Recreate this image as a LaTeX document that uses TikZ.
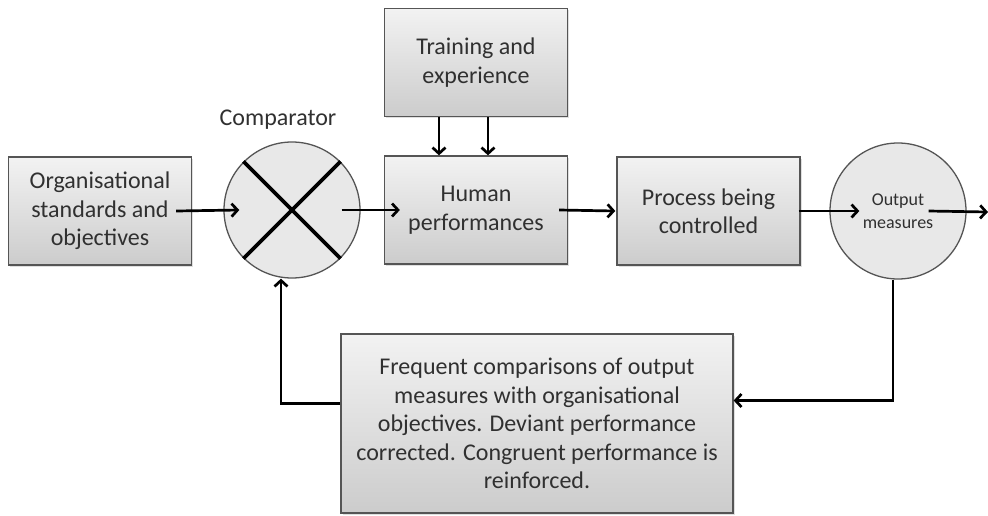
\documentclass[tikz,border=0pt]{standalone}
\usepackage{fontspec}
\setmainfont{Carlito}
\usetikzlibrary{arrows.meta,shapes,shadows}
\definecolor{textgray}{HTML}{303030}
\definecolor{boxline}{HTML}{555555}
\tikzstyle{block}=[rectangle,draw=boxline,line width=1.3pt,top color=gray!10,bottom color=gray!40,minimum width=183pt,minimum height=108pt,inner sep=2pt,align=center,text=textgray,font=\fontsize{24}{28.5}\selectfont,drop shadow={opacity=0.25,shadow xshift=1.5pt,shadow yshift=-1.5pt}]
\tikzstyle{junction}=[circle,draw=boxline,line width=1.3pt,fill=gray!18,minimum size=136pt,inner sep=0pt,align=center,text=textgray]
\tikzstyle{edge}=[draw,line width=2.7pt,-{Straight Barb[length=6pt,width=13pt]}]
\tikzstyle{cross}=[draw,line width=3.6pt]

\begin{document}
\begin{tikzpicture}[x=1pt,y=-1pt]

    \useasboundingbox (0,0) rectangle (988,515);

     \foreach \x/\y/\name/\txt in {100/211/org/{Organisational\\standards and\\objectives}, 476/62.5/train/{Training and\\experience}, 476/210/human/{Human\\performances}, 708.5/211/proc/{Process being\\controlled}}
        \node[block] (\name) at (\x,\y) {\txt};

    % comparator and output measures
    \node[junction] (comp) at (292,210) {};
    \node[text=textgray, font=\fontsize{24}{28.5}\selectfont] (complabel) at (278,120) {Comparator};
    \path[cross] (comp.north west) -- (comp.south east);
    \path[cross] (comp.north east) -- (comp.south west);

    \node[junction, font=\fontsize{18}{23}\selectfont] (out) at (898,211) {Output\\measures};
    \coordinate (exit) at (988,212);

    \node[block, minimum width=392pt, minimum height=179pt] (fb) at (537,423.5) {Frequent comparisons of output\\measures with organisational\\objectives. Deviant performance\\corrected. Congruent performance is\\reinforced.};

    % forward path
    \path[edge] ([xshift=-16pt]org.east) -- ([xshift=16pt]comp.west);
    \path[edge] ([xshift=-19pt]comp.east) -- ([xshift=16pt]human.west);
    \path[edge] ([xshift=-9pt]human.east) -- ([xshift=-1pt]proc.west);
    \path[edge] ([xshift=-2pt]proc.east) -- ([xshift=30pt]out.west);
    \path[edge] ([xshift=-38pt]out.east) -- (exit);

    \foreach \dx in {-37,12}
        \path[edge] ([xshift=\dx pt]train.south) -- ([xshift=\dx pt]human.north);

    % feedback loop
    \path[edge] ([xshift=-5pt]out.south) |- ([yshift=23pt]fb.east);
    \path[edge] ([yshift=20pt]fb.west) -| ([xshift=-11pt]comp.south);

\end{tikzpicture}
\end{document}
